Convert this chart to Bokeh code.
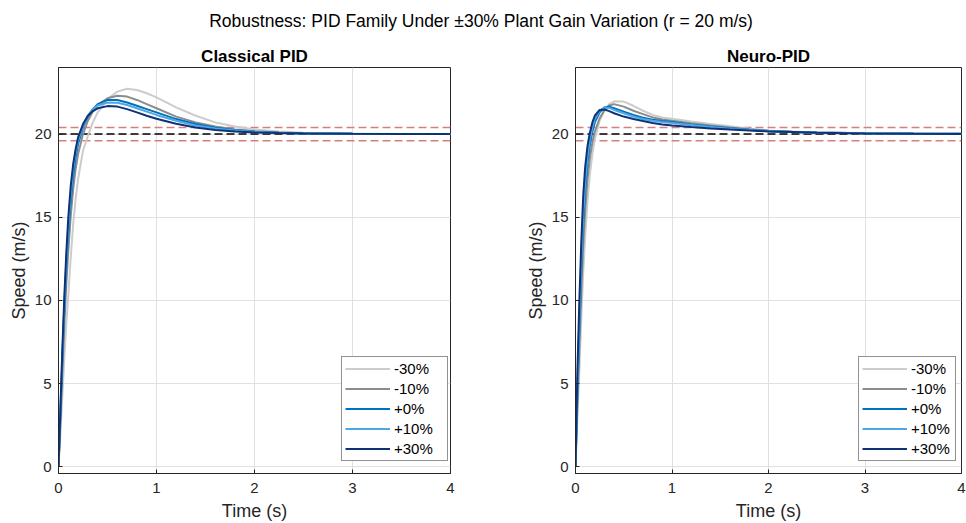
from bokeh.plotting import figure
from bokeh.models import Span, Label, Legend, LegendItem
from bokeh.layouts import column, row
from bokeh.embed import file_html
from bokeh.resources import INLINE

FONT = "Liberation Sans"

# ---------------- data ----------------
suptitle = "Robustness: PID Family Under \u00b130% Plant Gain Variation  (r = 20 m/s)"
panel_titles = ["Classical PID", "Neuro-PID"]
labels = ["-30%", "-10%", "+0%", "+10%", "+30%"]
x_ticks = [0, 1, 2, 3, 4]
y_ticks = [0, 5, 10, 15, 20]
ref_speed = 20
band = [19.6, 20.4]

t = [0, 0.02, 0.04, 0.06, 0.08, 0.1, 0.125, 0.15, 0.175, 0.2, 0.25, 0.3, 0.35, 0.4, 0.5,
     0.6, 0.7, 0.8, 0.9, 1.0, 1.2, 1.4, 1.6, 1.8, 2.0, 2.25, 2.5, 3.0, 3.5, 4.0]

cl_m30 = [0, 2.0, 4.3, 6.6, 8.6, 10.3, 12.6, 14.6, 16.1, 17.3, 19.0, 19.9, 20.7, 21.3, 22.1,
          22.55, 22.72, 22.65, 22.45, 22.2, 21.6, 21.1, 20.7, 20.45, 20.28, 20.15, 20.08, 20.03, 20.01, 20.0]
cl_m10 = [0, 2.8, 5.8, 8.6, 11.0, 13.0, 15.1, 16.7, 17.9, 18.8, 20.0, 20.8, 21.35, 21.75, 22.15,
          22.3, 22.25, 22.05, 21.8, 21.55, 21.05, 20.7, 20.45, 20.28, 20.17, 20.09, 20.05, 20.02, 20.01, 20.0]
cl_p0 = [0, 3.2, 6.5, 9.5, 12.0, 14.0, 16.0, 17.5, 18.6, 19.4, 20.4, 21.05, 21.5, 21.8, 22.05,
         22.05, 21.9, 21.7, 21.5, 21.3, 20.9, 20.6, 20.38, 20.24, 20.15, 20.08, 20.05, 20.02, 20.01, 20.0]
cl_p10 = [0, 3.4, 6.8, 9.9, 12.4, 14.5, 16.4, 17.9, 18.9, 19.6, 20.5, 21.1, 21.5, 21.72, 21.9,
          21.88, 21.75, 21.55, 21.35, 21.15, 20.8, 20.52, 20.33, 20.21, 20.13, 20.07, 20.04, 20.02, 20.01, 20.0]
cl_p30 = [0, 3.6, 7.2, 10.3, 12.9, 15.0, 16.9, 18.2, 19.1, 19.8, 20.6, 21.1, 21.38, 21.55, 21.68,
          21.65, 21.5, 21.3, 21.1, 20.92, 20.62, 20.4, 20.25, 20.15, 20.1, 20.06, 20.04, 20.02, 20.01, 20.0]

nn_m30 = [0, 3.0, 5.8, 8.9, 11.7, 13.8, 16.0, 17.6, 18.8, 19.7, 20.8, 21.4, 21.8, 21.97, 21.95,
          21.7, 21.4, 21.15, 21.0, 20.92, 20.75, 20.6, 20.47, 20.32, 20.22, 20.15, 20.1, 20.05, 20.03, 20.02]
nn_m10 = [0, 3.8, 7.2, 10.5, 13.3, 15.4, 17.3, 18.6, 19.5, 20.15, 20.95, 21.45, 21.72, 21.8, 21.65,
          21.4, 21.2, 21.0, 20.88, 20.8, 20.65, 20.52, 20.4, 20.29, 20.2, 20.14, 20.09, 20.05, 20.03, 20.02]
nn_p0 = [0, 4.5, 8.3, 11.8, 14.6, 16.6, 18.3, 19.4, 20.15, 20.7, 21.3, 21.6, 21.65, 21.55, 21.35,
         21.15, 20.98, 20.86, 20.78, 20.72, 20.58, 20.45, 20.35, 20.26, 20.18, 20.13, 20.09, 20.05, 20.03, 20.02]
nn_p10 = [0, 4.9, 8.9, 12.4, 15.2, 17.1, 18.7, 19.7, 20.4, 20.9, 21.4, 21.6, 21.57, 21.45, 21.25,
          21.05, 20.9, 20.8, 20.72, 20.66, 20.54, 20.42, 20.32, 20.24, 20.17, 20.12, 20.08, 20.05, 20.03, 20.02]
nn_p30 = [0, 5.8, 10.0, 13.5, 16.3, 18.0, 19.3, 20.1, 20.7, 21.1, 21.45, 21.48, 21.38, 21.25, 21.05,
          20.9, 20.78, 20.67, 20.58, 20.52, 20.42, 20.34, 20.27, 20.21, 20.16, 20.12, 20.08, 20.04, 20.02, 20.01]

classical = [cl_m30, cl_m10, cl_p0, cl_p10, cl_p30]
neuro = [nn_m30, nn_m10, nn_p0, nn_p10, nn_p30]

# ---------------- styles ----------------
colors = ["#cccccc", "#8c8c8c", "#0072bd", "#4da6e8", "#0d3276"]
AX = "#262626"

# ---------------- super title ----------------
top = figure(width=966, height=36, x_range=(0, 1), y_range=(0, 1),
             x_axis_location=None, y_axis_location=None, toolbar_location=None,
             outline_line_color=None, min_border=0, output_backend="svg")
top.grid.visible = False
top.add_layout(Label(x=0.5, y=1 - 20 / 36, text=suptitle, text_align="center",
                     text_baseline="middle", text_font=FONT, text_font_size="17.5px",
                     text_color="#000000"))


def make_panel(title, series, width, mb_left, mb_right, leg_label_width):
    p = figure(width=width, height=487, x_range=(0, 4), y_range=(-0.4, 24),
               toolbar_location=None, output_backend="svg", title=title,
               min_border_left=mb_left, min_border_right=mb_right,
               min_border_top=31, min_border_bottom=50)
    p.title.align = "center"
    p.title.text_font = FONT
    p.title.text_font_size = "17px"
    p.title.text_font_style = "bold"
    p.title.text_color = "#000000"
    p.title.standoff = 4

    p.xaxis.ticker = x_ticks
    p.yaxis.ticker = y_ticks
    p.xaxis.axis_label = "Time (s)"
    p.yaxis.axis_label = "Speed (m/s)"
    for ax in (p.xaxis, p.yaxis):
        ax.axis_line_color = AX
        ax.major_tick_line_color = AX
        ax.major_tick_in = 4
        ax.major_tick_out = 0
        ax.minor_tick_line_color = None
        ax.major_label_text_font = FONT
        ax.major_label_text_font_size = "15px"
        ax.major_label_text_color = AX
        ax.axis_label_text_font = FONT
        ax.axis_label_text_font_size = "18px"
        ax.axis_label_text_font_style = "normal"
        ax.axis_label_text_color = AX
    p.xaxis.major_label_standoff = 9
    p.yaxis.major_label_standoff = 7
    p.xaxis.axis_label_standoff = 5
    p.yaxis.axis_label_standoff = 3

    p.grid.grid_line_color = "#e0e0e0"
    p.grid.grid_line_width = 1
    p.outline_line_color = AX
    p.outline_line_width = 1
    p.outline_line_alpha = 1

    for b in band:
        p.add_layout(Span(location=b, dimension="width", line_color="#d48080",
                          line_width=1.5, line_dash="8 4", level="underlay"))
    p.add_layout(Span(location=ref_speed, dimension="width", line_color="#000000",
                      line_width=1.5, line_dash="8 4", level="underlay"))

    items = []
    for ys, c, lab in zip(series, colors, labels):
        r = p.line(t, ys, line_color=c, line_width=2)
        items.append(LegendItem(label=lab, renderers=[r]))

    leg = Legend(items=items, location=(283, 12), margin=0, padding=3, spacing=3,
                 glyph_width=45, glyph_height=17, label_height=17,
                 label_width=leg_label_width, label_standoff=4,
                 label_text_font=FONT, label_text_font_size="15px",
                 label_text_color="#000000", border_line_color=AX,
                 border_line_width=1, background_fill_color="white",
                 background_fill_alpha=1)
    p.add_layout(leg)
    return p


p1 = make_panel(panel_titles[0], classical, 500, 58, 50, 50)
p2 = make_panel(panel_titles[1], neuro, 466, 75, 5, 41)

layout = column(top, row(p1, p2))
open("out.html", "w").write(file_html(layout, INLINE))
